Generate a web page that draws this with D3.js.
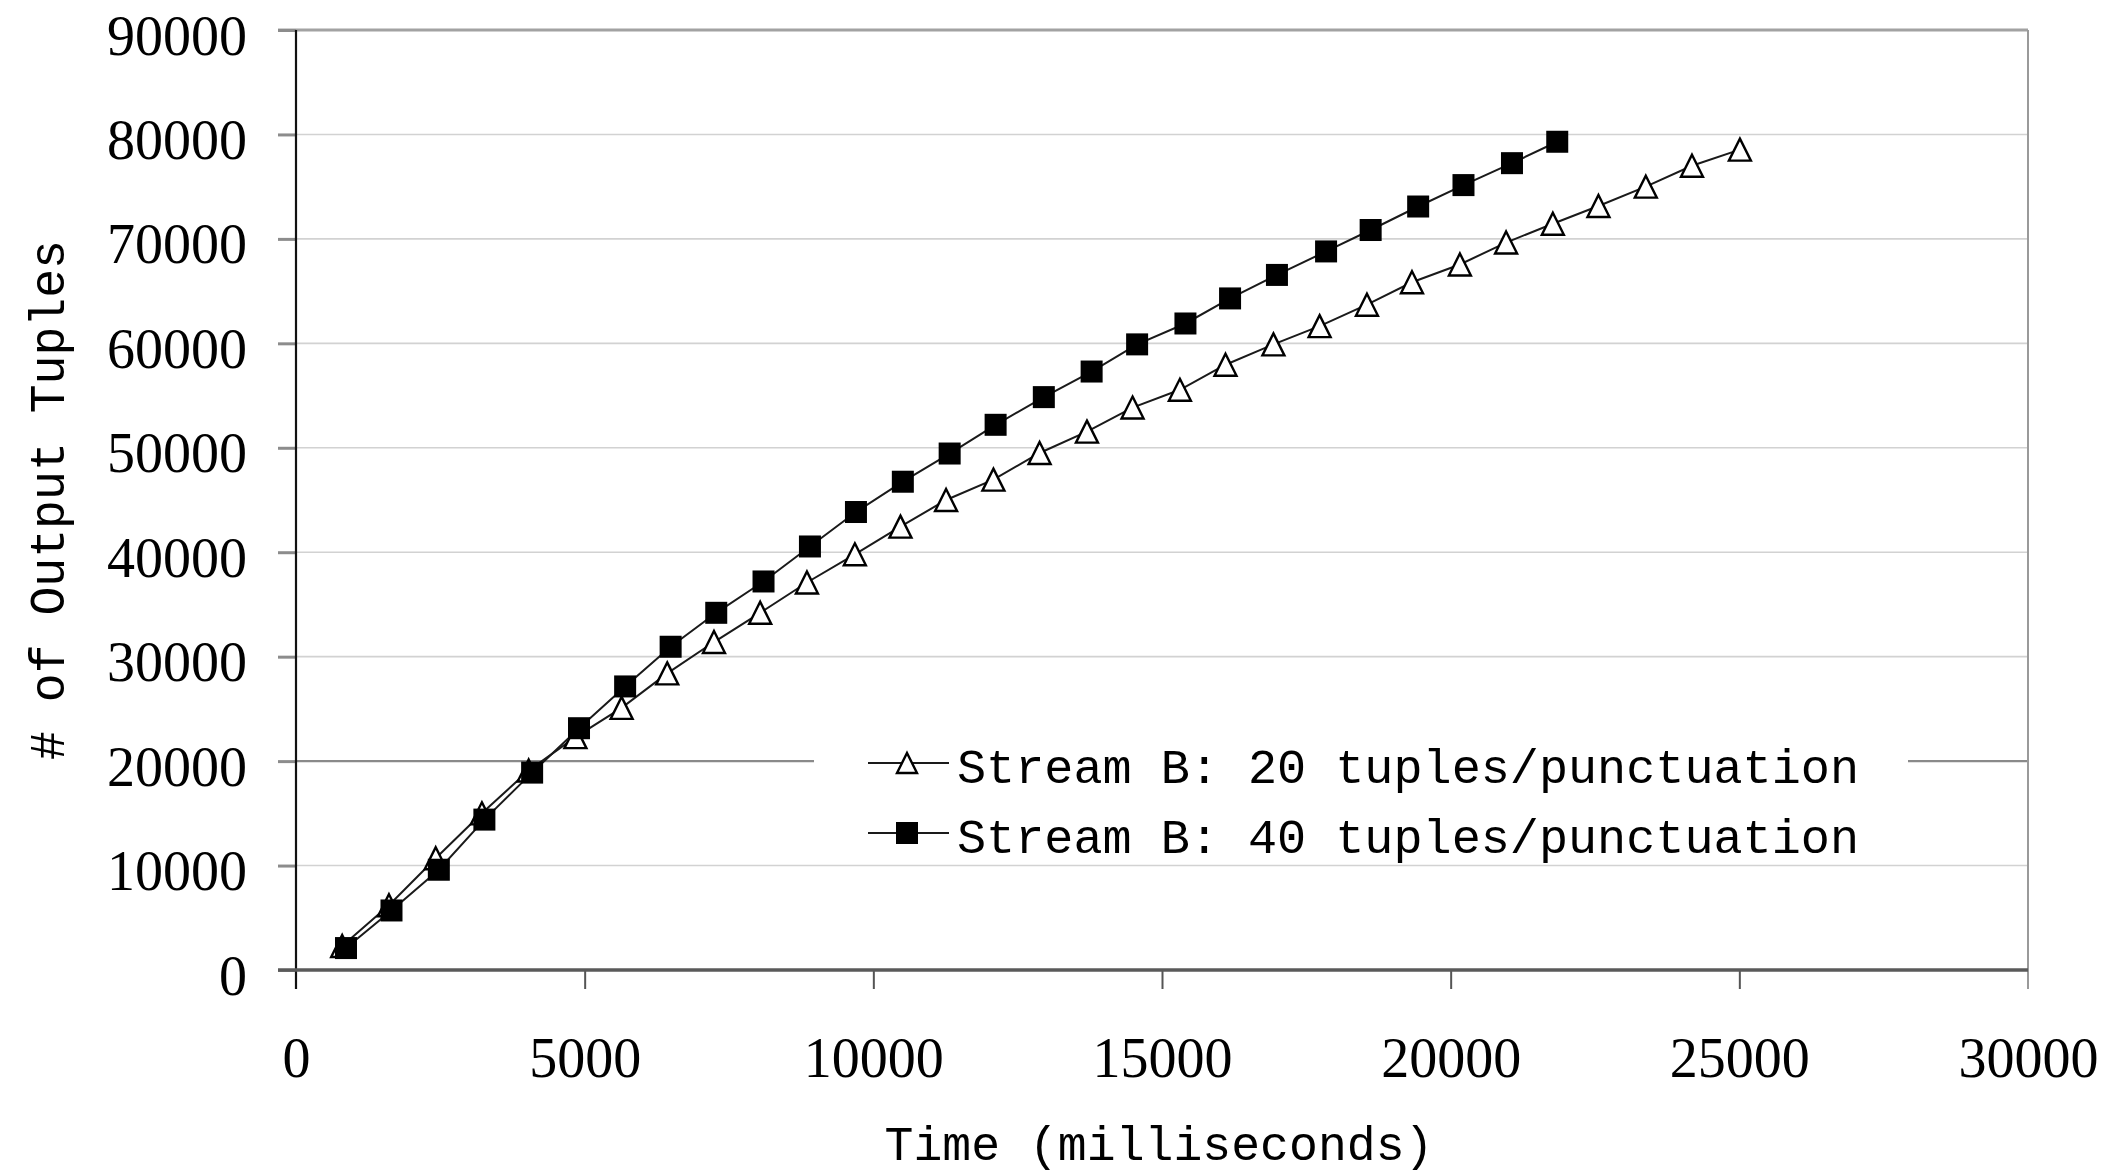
<!DOCTYPE html>
<html><head><meta charset="utf-8">
<script src="https://cdn.jsdelivr.net/npm/d3@7/dist/d3.min.js"></script>
<style>body{margin:0;background:#fff} svg{display:block}</style>
</head><body>
<svg id="chart" width="2110" height="1175"></svg>
<script>
// ---- data ----
const timeTicks = [0, 5000, 10000, 15000, 20000, 25000, 30000];
const tupleTicks = [0, 10000, 20000, 30000, 40000, 50000, 60000, 70000, 80000, 90000];
const seriesNames = ["Stream B: 20 tuples/punctuation", "Stream B: 40 tuples/punctuation"];
const xTitle = "Time (milliseconds)";
const yTitle = "# of Output Tuples";

const time20 = [800, 1610, 2420, 3220, 4030, 4840, 5640, 6430, 7240, 8040, 8850, 9680, 10470, 11260, 12080, 12880, 13700, 14490, 15310, 16100, 16930, 17730, 18550, 19330, 20160, 20960, 21770, 22560, 23380, 24180, 25010];
const tuples20 = [2300, 6200, 10700, 15000, 19100, 22300, 25100, 28400, 31400, 34200, 37100, 39800, 42450, 45000, 46950, 49500, 51550, 53850, 55550, 57950, 59900, 61650, 63700, 65850, 67550, 69650, 71450, 73150, 75000, 77000, 78550];

const time40 = [866, 1654, 2474, 3263, 4090, 4902, 5701, 6489, 7279, 8098, 8902, 9699, 10511, 11322, 12118, 12953, 13781, 14569, 15406, 16179, 16991, 17842, 18614, 19437, 20222, 21062, 21846];
const tuples40 = [2100, 5700, 9600, 14400, 18900, 23150, 27150, 30950, 34200, 37200, 40550, 43850, 46750, 49450, 52200, 54850, 57300, 59900, 61900, 64300, 66550, 68800, 70850, 73100, 75150, 77250, 79300];

// ---- layout ----
const svg = d3.select("#chart");
const L = 296, R = 2028, T = 30, B = 970;
const x = d3.scaleLinear().domain([0, 30000]).range([L, R]);
const y = d3.scaleLinear().domain([0, 90000]).range([B, T]);
const monoFont = "'Liberation Mono', 'DejaVu Sans Mono', monospace";
const serifFont = "'Liberation Serif', 'DejaVu Serif', serif";

// gridlines
svg.append("g").selectAll("line")
  .data(tupleTicks.filter(v => v > 0 && v < 90000))
  .join("line")
  .attr("x1", L).attr("x2", R)
  .attr("y1", d => y(d)).attr("y2", d => y(d))
  .attr("stroke", d => d === 20000 ? "#8a8a8a" : "#d2d2d2")
  .attr("stroke-width", d => d === 20000 ? 2.2 : 1.6);

// top border (90000)
svg.append("line").attr("x1", L - 18).attr("x2", R)
  .attr("y1", y(90000)).attr("y2", y(90000))
  .attr("stroke", "#a2a2a2").attr("stroke-width", 3);
// right border
svg.append("line").attr("x1", R).attr("x2", R)
  .attr("y1", y(90000)).attr("y2", B + 19)
  .attr("stroke", "#9a9a9a").attr("stroke-width", 2);

// y axis
const yAxis = svg.append("g").attr("transform", `translate(${L},0)`)
  .call(d3.axisLeft(y).tickValues(tupleTicks).tickSize(18).tickSizeOuter(0).tickFormat(d3.format("d")));
yAxis.select(".domain").remove();
yAxis.selectAll(".tick line").attr("stroke", "#8c8c8c").attr("stroke-width", 3);
yAxis.selectAll(".tick text")
  .attr("x", -49).attr("dy", null).attr("y", 24)
  .attr("font-family", serifFont).attr("font-size", 56).attr("fill", "#000")
  .attr("text-anchor", "end");
svg.append("line").attr("x1", L).attr("x2", L).attr("y1", T).attr("y2", B + 19)
  .attr("stroke", "#111").attr("stroke-width", 2.2);

// x axis
const xAxis = svg.append("g").attr("transform", `translate(0,${B})`)
  .call(d3.axisBottom(x).tickValues(timeTicks).tickSize(19).tickSizeOuter(0).tickFormat(d3.format("d")));
xAxis.select(".domain").remove();
xAxis.selectAll(".tick line").attr("stroke", "#555").attr("stroke-width", 2)
  .attr("display", d => (d === 0 || d === 30000) ? "none" : null);
xAxis.selectAll(".tick text")
  .attr("dy", null).attr("y", 107)
  .attr("font-family", serifFont).attr("font-size", 56).attr("fill", "#000");
svg.append("line").attr("x1", L - 18).attr("x2", R).attr("y1", B).attr("y2", B)
  .attr("stroke", "#5a5a5a").attr("stroke-width", 3.5);

// axis titles
svg.append("text").text(xTitle)
  .attr("x", 1159).attr("y", 1160).attr("text-anchor", "middle")
  .attr("font-family", monoFont).attr("font-size", 49)
  .attr("textLength", 549).attr("lengthAdjust", "spacingAndGlyphs");
svg.append("text").text(yTitle)
  .attr("transform", "translate(64,500) rotate(-90)")
  .attr("text-anchor", "middle")
  .attr("font-family", monoFont).attr("font-size", 50)
  .attr("textLength", 520).attr("lengthAdjust", "spacingAndGlyphs");

// series
const line = d3.line().x(d => x(d[0])).y(d => y(d[1]));
const data20 = time20.map((t, i) => [t, tuples20[i]]);
const data40 = time40.map((t, i) => [t, tuples40[i]]);
const triSize = 22, sqSize = 22;
const triPath = s => `M0,${-s/2}L${s/2},${s/2}L${-s/2},${s/2}Z`;

svg.append("path").datum(data20).attr("d", line)
  .attr("fill", "none").attr("stroke", "#1a1a1a").attr("stroke-width", 2);
svg.append("g").selectAll("path").data(data20).join("path")
  .attr("transform", d => `translate(${x(d[0])},${y(d[1])})`)
  .attr("d", triPath(triSize))
  .attr("fill", "#fff").attr("stroke", "#000").attr("stroke-width", 2.4);

svg.append("path").datum(data40).attr("d", line)
  .attr("fill", "none").attr("stroke", "#1a1a1a").attr("stroke-width", 2);
svg.append("g").selectAll("rect").data(data40).join("rect")
  .attr("x", d => x(d[0]) - sqSize/2).attr("y", d => y(d[1]) - sqSize/2)
  .attr("width", sqSize).attr("height", sqSize)
  .attr("fill", "#000");

// legend
const lg = svg.append("g");
lg.append("rect").attr("x", 814).attr("y", 727).attr("width", 1094).attr("height", 132).attr("fill", "#fff");
const rows = [763, 833];
seriesNames.forEach((name, i) => {
  const ry = rows[i];
  lg.append("line").attr("x1", 868).attr("x2", 949).attr("y1", ry).attr("y2", ry)
    .attr("stroke", "#1a1a1a").attr("stroke-width", 2);
  if (i === 0) {
    lg.append("path").attr("transform", `translate(907,${ry})`).attr("d", triPath(20))
      .attr("fill", "#fff").attr("stroke", "#000").attr("stroke-width", 2.4);
  } else {
    lg.append("rect").attr("x", 907 - 11).attr("y", ry - 11).attr("width", 22).attr("height", 22).attr("fill", "#000");
  }
  lg.append("text").text(name)
    .attr("x", 957).attr("y", ry + 20)
    .attr("font-family", monoFont).attr("font-size", 48)
    .attr("textLength", 902).attr("lengthAdjust", "spacingAndGlyphs");
});
</script>
</body></html>
